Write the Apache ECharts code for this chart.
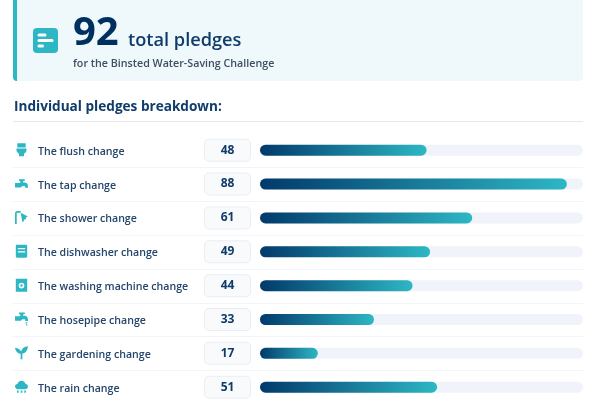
<!DOCTYPE html>
<html>
<head>
<meta charset="utf-8">
<style>html,body{margin:0;padding:0;background:#fff}#chart{width:600px;height:400px}</style>
<script src="https://cdn.jsdelivr.net/npm/echarts@6/dist/echarts.min.js"></script>
</head>
<body>
<div id="chart"></div>
<script>
// Pledge counts for the Binsted Water-Saving Challenge
const totalPledges = 92;
const categories = [
  'The flush change', 'The tap change', 'The shower change', 'The dishwasher change',
  'The washing machine change', 'The hosepipe change', 'The gardening change', 'The rain change'
];
const pledges = [48, 88, 61, 49, 44, 33, 17, 51];

// Small glyphs on a 16x16 box, one per row
const tapPath = 'M5 0h7v2H10V4h2c2.200 0 4 1.800 4 4.500V10.500h-3.500V9.500c0-.8-.5-1.300-1.300-1.300H9C8 9.500 7 10 5.500 10H0V4.500h6.500V2H5z';
const icons = [
  'M3 0h10v5H3z M2 6.200h12v1.600c0 2.700-1.500 3.700-3 4.700V15.500H5v-3c-1.500-1-3-2-3-4.700z',
  tapPath,
  'M1 16V4c0-2 1-3 3-3h3.500v2H4c-.8 0-1 .4-1 1v12z M7.500 3l8.500 4.500-2 .5-.5 2.500-2 .5-.5 2-1.500 1z',
  'M2.500 0h11c.8 0 1.500.7 1.500 1.500v13c0 .8-.7 1.500-1.500 1.500h-11c-.8 0-1.500-.7-1.500-1.500v-13C1 .7 1.700 0 2.500 0z M3.500 4v1.500h9V4z M3.500 8v1.500h9V8z',
  'M1 0h14v16H1z M8 5a3.500 3.500 0 0 0 0 7a3.500 3.500 0 0 0 0-7z M8 7a1.500 1.500 0 0 1 0 3a1.500 1.500 0 0 1 0-3z',
  tapPath + ' M13 12h2v1.500h-2z M13.500 14.500h1.500V16h-1.500z',
  'M7 16V9.500C5 9.500 1.500 8 0.500 2.500 4 3 6.500 4 7.500 7 8.500 3.500 11 1.500 15.500 1 15 6 12.500 9 9 9.500V16z',
  'M3.500 10.500C1.500 10.500 0 9 0 7.300c0-1.500 1.200-2.800 3-3C3.500 1.500 5.500 0 8 0c2.500 0 4.500 1.500 5 4.300 1.800.2 3 1.500 3 3 0 1.700-1.500 3.200-3.500 3.200z M2.500 12h2v3h-2z M7 12h2v3H7z M11.500 12h2v3h-2z'
];

// Page layout constants
const panelLeft = 13, panelRight = 583, barLeft = 260;
const rowsTop = 133.27, rowHeight = 33.86;
const iconLeft = 15, iconSize = 13;
const axisMin = 0.5, axisMax = 92.6;
const teal = '#2DB7C4', navy = '#00305F', barStart = '#023A6B';

const graphic = [
  { type: 'rect', silent: true, z: 0, shape: { x: panelLeft, y: -6, width: panelRight - panelLeft, height: 87, r: 4 }, style: { fill: '#EFF8FB' } },
  { type: 'rect', silent: true, z: 1, shape: { x: panelLeft, y: -6, width: 4, height: 87, r: [4, 0, 0, 4] }, style: { fill: teal } },
  { type: 'rect', silent: true, z: 1, shape: { x: 33, y: 28, width: 25, height: 25, r: 4 }, style: { fill: teal } },
  { type: 'rect', silent: true, z: 2, shape: { x: 37.500, y: 33.500, width: 9, height: 3, r: 1.500 }, style: { fill: '#fff' } },
  { type: 'rect', silent: true, z: 2, shape: { x: 37.500, y: 39, width: 16, height: 3, r: 1.500 }, style: { fill: '#fff' } },
  { type: 'rect', silent: true, z: 2, shape: { x: 37.500, y: 44.500, width: 6.500, height: 3, r: 1.500 }, style: { fill: '#fff' } },
  { type: 'text', silent: true, z: 2, x: 73, y: 34, style: { text: String(totalPledges), fill: navy, font: '700 40px "Open Sans"', textAlign: 'left', textVerticalAlign: 'middle' } },
  { type: 'text', silent: true, z: 2, x: 128, y: 41, style: { text: 'total pledges', fill: '#0F3C6B', font: '600 18.200px "Open Sans"', textAlign: 'left', textVerticalAlign: 'middle' } },
  { type: 'text', silent: true, z: 2, x: 73, y: 64, style: { text: 'for the Binsted Water-Saving Challenge', fill: '#3D4F63', font: '600 10.700px "Open Sans"', textAlign: 'left', textVerticalAlign: 'middle' } },
  { type: 'text', silent: true, z: 2, x: 14, y: 107, style: { text: 'Individual pledges breakdown:', fill: '#0F3C6B', font: '700 13.600px "Open Sans"', textAlign: 'left', textVerticalAlign: 'middle' } },
  { type: 'line', silent: true, z: 0, shape: { x1: panelLeft, y1: 121.500, x2: panelRight, y2: 121.500 }, style: { stroke: '#E3E9EF', lineWidth: 1 } }
];

// Thin rules between the rows
categories.slice(1).forEach((name, i) => {
  const ruleY = Math.round(rowsTop + rowHeight * (i + 1)) + 0.5;
  graphic.push({
    type: 'line', silent: true, z: 0,
    shape: { x1: panelLeft, y1: ruleY, x2: panelRight, y2: ruleY },
    style: { stroke: '#F1F4F8', lineWidth: 1 }
  });
});

const chart = echarts.init(document.getElementById('chart'), null, { renderer: 'canvas' });
chart.setOption({
  animation: false,
  backgroundColor: '#fff',
  textStyle: { fontFamily: '"Open Sans"' },
  graphic: graphic,
  grid: {
    left: barLeft, right: 600 - panelRight, top: rowsTop, height: rowHeight * categories.length,
    containLabel: false, outerBoundsMode: 'none'
  },
  xAxis: { type: 'value', min: axisMin, max: axisMax, show: false },
  yAxis: {
    type: 'category', data: categories, inverse: true,
    axisLine: { show: false }, axisTick: { show: false }, splitLine: { show: false },
    axisLabel: {
      align: 'left', margin: barLeft - 38,
      formatter: '{row|{value}}',
      rich: {
        row: { padding: [3, 0, 0, 0], color: '#24456B', fontSize: 10.6, fontWeight: 600, fontFamily: '"Open Sans"' }
      }
    }
  },
  series: [{
    type: 'bar',
    data: pledges,
    barWidth: 11,
    showBackground: true,
    backgroundStyle: { color: '#F0F3F9', borderRadius: 5.500 },
    itemStyle: {
      borderRadius: 5.500,
      color: new echarts.graphic.LinearGradient(0, 0, 1, 0, [
        { offset: 0, color: barStart },
        { offset: 1, color: teal }
      ])
    },
    label: {
      show: true, position: 'left', distance: 32.5,
      width: 45, height: 21, lineHeight: 22, align: 'center',
      color: '#0F3C6B', fontSize: 12, fontWeight: 700, fontFamily: '"Open Sans"',
      backgroundColor: '#F8FAFC', borderColor: '#E9EEF4', borderWidth: 1, borderRadius: 4
    }
  }, {
    // Row glyphs, placed on the category scale
    type: 'custom',
    silent: true,
    clip: false,
    data: pledges.map((v, i) => [axisMin, i]),
    encode: { x: 0, y: 1 },
    renderItem: (params, api) => {
      const rowCentre = api.coord([axisMin, api.value(1)])[1];
      return {
        type: 'path',
        shape: {
          pathData: icons[params.dataIndex],
          x: iconLeft, y: rowCentre - iconSize / 2 - 0.5,
          width: iconSize, height: iconSize, layout: 'center'
        },
        style: { fill: teal }
      };
    }
  }]
});
</script>
</body>
</html>
